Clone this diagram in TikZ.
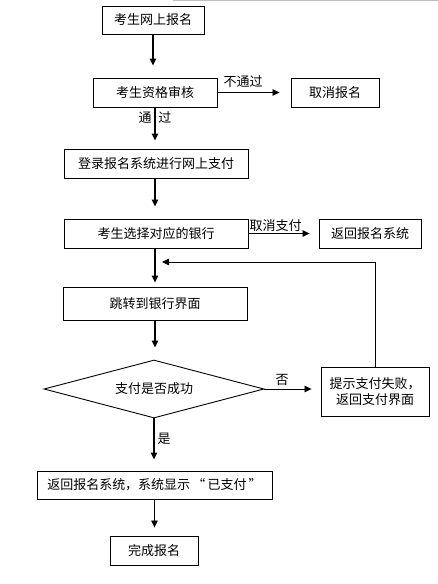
\documentclass[tikz,border=0pt]{standalone}
\usepackage{fontspec}
\setmainfont{Noto Sans CJK SC}
\usetikzlibrary{shapes.geometric,arrows.meta}
\begin{document}
\begin{tikzpicture}[x=1pt,y=-1pt,
  font=\fontsize{13pt}{15.5pt}\selectfont,
  box/.style={draw, line width=0.9pt, inner sep=0pt, minimum height=29pt},
  arr/.style={line width=1.3pt, -{Triangle[length=7pt,width=6.5pt]}},
  thin arr/.style={line width=0.8pt, -{Triangle[length=7pt,width=6.5pt]}},
  lbl/.style={inner sep=0pt}]
\useasboundingbox (0,0) rectangle (438,584);
\draw[gray!50, line width=1pt] (173,0.5) -- (438,0.5);

\node[box, minimum width=102pt, minimum height=28pt] (b1) at (153,20) {考生网上报名};
\node[box, minimum width=124pt] (b2) at (155,92.5) {考生资格审核};
\node[box, minimum width=88pt] (cancel) at (335,92.5) {取消报名};
\node[box, minimum width=184pt] (b3) at (156,163.5) {登录报名系统进行网上支付};
\node[box, minimum width=184pt] (b4) at (156,233.5) {考生选择对应的银行};
\node[box, minimum width=102pt] (ret) at (370,233.5) {返回报名系统};
\node[box, minimum width=184pt, minimum height=33pt] (b5) at (155,303.5) {跳转到银行界面};
\node[draw, line width=0.9pt, shape=diamond, aspect=3.8, inner sep=0pt,
      minimum width=220pt, minimum height=58pt] (d) at (154,389) {支付是否成功};
\node[box, minimum width=108pt, minimum height=49pt, align=center] (b6) at (375,391.5)
  {提示支付失败，\\返回支付界面};
\node[box, minimum width=235pt, minimum height=28pt] (b7) at (154.5,485) {返回报名系统，系统显示\,“\,已支付\,”};
\node[box, minimum width=88pt] (b8) at (154,550.5) {完成报名};

\coordinate (fb) at (155,262);

\draw[arr, shorten >=12pt] (b1.south) -- (b1.south |- b2.north);
\draw[arr, shorten >=8pt] (b2.south) -- (b2.south |- b3.north);
\draw[thin arr, shorten >=11pt] (b2.east) -- (cancel.west);
\draw[arr, shorten >=12pt] (b3.south -| b2.south) -- (b2.south |- b4.north);
\draw[thin arr, shorten >=9pt] (b4.east) -- (ret.west);
\draw[arr, shorten >=4pt] (b4.south -| b2.south) -- (b2.south |- b5.north);
\draw[thin arr, shorten >=7pt] (b6.north) |- (fb);
\draw[arr, shorten >=12pt] (b5.south -| b2.south) -- (b2.south |- d.north);
\draw[thin arr, shorten >=9pt] (d.east) -- (d.east -| b6.west);
\draw[arr, shorten >=11pt] (d.south) -- (d.south |- b7.north);
\draw[thin arr, shorten >=8pt] (b7.south) -- (b7.south |- b8.north);

\node[lbl] (l1) at (243,82) {不通过};
\node[lbl] (l2) at (155,118) {通\hspace{7pt}过};
\node[lbl] (l3) at (275.5,226) {取消支付};
\node[lbl] (l4) at (282,380) {否};
\node[lbl] (l5) at (164,439) {是};
\end{tikzpicture}
\end{document}
